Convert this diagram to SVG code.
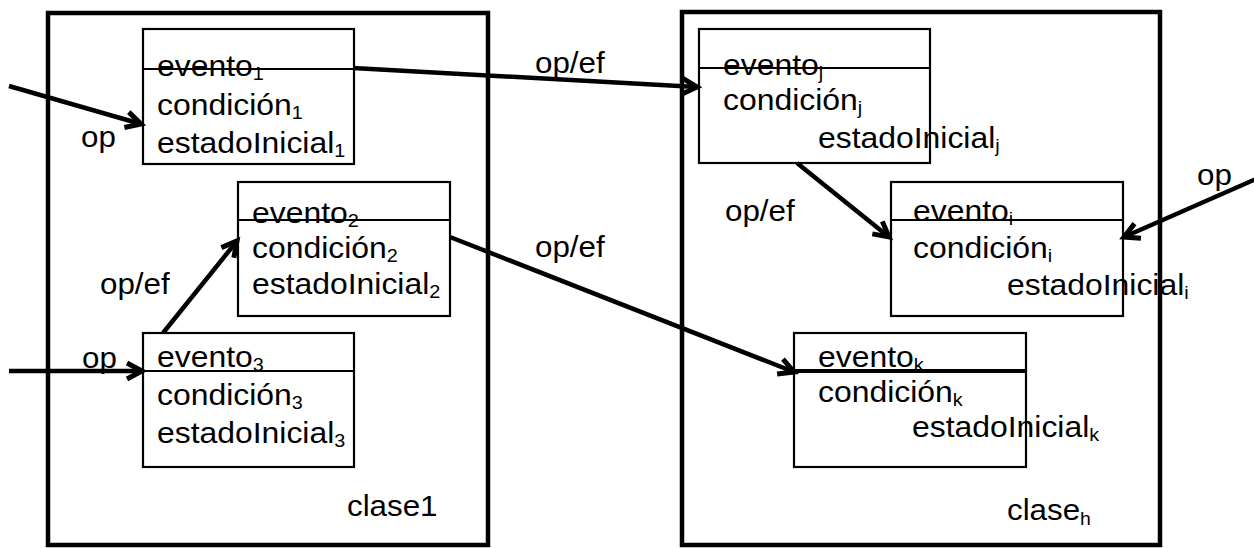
<svg xmlns="http://www.w3.org/2000/svg" width="1254" height="548" viewBox="0 0 1254 548">
  <style>
    text { font-family: "Liberation Sans", Arial, sans-serif; font-size: 29px; fill: #000; }
    .sub { font-size: 18px; }
    .cls { fill: none; stroke: #000; stroke-width: 4.5; }
    .st { fill: #fff; stroke: #000; stroke-width: 2.2; }
    .div { stroke: #000; stroke-width: 2.2; }
    .arr { fill: none; stroke: #000; stroke-width: 4.5; marker-end: url(#head); }
  </style>
  <defs>
    <marker id="head" markerUnits="userSpaceOnUse" markerWidth="30" markerHeight="30" viewBox="-20 -15 30 30" refX="0" refY="0" orient="auto">
      <path d="M -15 -8 L 0 0 L -15 8" fill="none" stroke="#000" stroke-width="5" stroke-linejoin="miter"/>
    </marker>
  </defs>

  <!-- class containers -->
  <g id="clase1">
    <rect class="cls" x="48" y="13" width="440" height="532"/>
    <text transform="translate(347 516) scale(1.08 1)">clase1</text>
  </g>
  <g id="claseh">
    <rect class="cls" x="682" y="12" width="478" height="533"/>
    <text transform="translate(1007 520) scale(1.08 1)">clase<tspan class="sub" dy="5">h</tspan></text>
  </g>

  <!-- states of clase1 -->
  <g id="estado1">
    <rect class="st" x="143" y="29" width="211" height="135"/>
    <line class="div" x1="143" y1="69" x2="354" y2="69"/>
    <text transform="translate(157 76) scale(1.1 1)">evento<tspan class="sub" dy="4">1</tspan></text>
    <text transform="translate(157 115) scale(1.1 1)">condición<tspan class="sub" dy="4">1</tspan></text>
    <text transform="translate(157 153) scale(1.1 1)">estadoInicial<tspan class="sub" dy="4">1</tspan></text>
  </g>
  <g id="estado2">
    <rect class="st" x="238" y="182" width="212" height="134"/>
    <line class="div" x1="238" y1="220" x2="450" y2="220"/>
    <text transform="translate(252 223) scale(1.1 1)">evento<tspan class="sub" dy="4">2</tspan></text>
    <text transform="translate(252 258) scale(1.1 1)">condición<tspan class="sub" dy="4">2</tspan></text>
    <text transform="translate(252 294) scale(1.1 1)">estadoInicial<tspan class="sub" dy="4">2</tspan></text>
  </g>
  <g id="estado3">
    <rect class="st" x="143" y="333" width="211" height="134"/>
    <line class="div" x1="143" y1="371" x2="354" y2="371"/>
    <text transform="translate(157 367) scale(1.1 1)">evento<tspan class="sub" dy="4">3</tspan></text>
    <text transform="translate(157 405) scale(1.1 1)">condición<tspan class="sub" dy="4">3</tspan></text>
    <text transform="translate(157 443) scale(1.1 1)">estadoInicial<tspan class="sub" dy="4">3</tspan></text>
  </g>

  <!-- states of clase h -->
  <g id="estadoj">
    <rect class="st" x="699" y="29" width="231" height="134"/>
    <line class="div" x1="699" y1="68" x2="930" y2="68"/>
    <text transform="translate(723 75) scale(1.1 1)">evento<tspan class="sub" dy="4">j</tspan></text>
    <text transform="translate(723 110) scale(1.1 1)">condición<tspan class="sub" dy="4">j</tspan></text>
    <text transform="translate(818 148) scale(1.1 1)">estadoInicial<tspan class="sub" dy="4">j</tspan></text>
  </g>
  <g id="estadoi">
    <rect class="st" x="891" y="182" width="232" height="134"/>
    <line class="div" x1="891" y1="220" x2="1123" y2="220"/>
    <text transform="translate(913 221) scale(1.1 1)">evento<tspan class="sub" dy="4">i</tspan></text>
    <text transform="translate(913 258) scale(1.1 1)">condición<tspan class="sub" dy="4">i</tspan></text>
    <text transform="translate(1007 295) scale(1.1 1)">estadoInicial<tspan class="sub" dy="4">i</tspan></text>
  </g>
  <g id="estadok">
    <rect class="st" x="794" y="333" width="232" height="134"/>
    <line class="div" x1="794" y1="371" x2="1026" y2="371" style="stroke-width:4"/>
    <text transform="translate(818 367) scale(1.1 1)">evento<tspan class="sub" dy="4">k</tspan></text>
    <text transform="translate(818 402) scale(1.1 1)">condición<tspan class="sub" dy="4">k</tspan></text>
    <text transform="translate(912 437) scale(1.1 1)">estadoInicial<tspan class="sub" dy="4">k</tspan></text>
  </g>

  <!-- transitions -->
  <g id="connectors">
    <line class="arr" x1="9" y1="86" x2="141" y2="124"/>
    <line class="arr" x1="353" y1="68" x2="697" y2="87"/>
    <line class="arr" x1="163" y1="333" x2="237" y2="241"/>
    <line class="arr" x1="9" y1="371" x2="142" y2="371"/>
    <line class="arr" x1="450" y1="237" x2="794" y2="372"/>
    <line class="arr" x1="797" y1="163" x2="889" y2="237"/>
    <line class="arr" x1="1256" y1="179" x2="1124" y2="237"/>
    <text transform="translate(81 147) scale(1.08 1)">op</text>
    <text transform="translate(82 368) scale(1.08 1)">op</text>
    <text transform="translate(100 294) scale(1.08 1)">op/ef</text>
    <text transform="translate(535 73) scale(1.08 1)">op/ef</text>
    <text transform="translate(535 257) scale(1.08 1)">op/ef</text>
    <text transform="translate(725 221) scale(1.08 1)">op/ef</text>
    <text transform="translate(1197 185) scale(1.08 1)">op</text>
  </g>
</svg>
